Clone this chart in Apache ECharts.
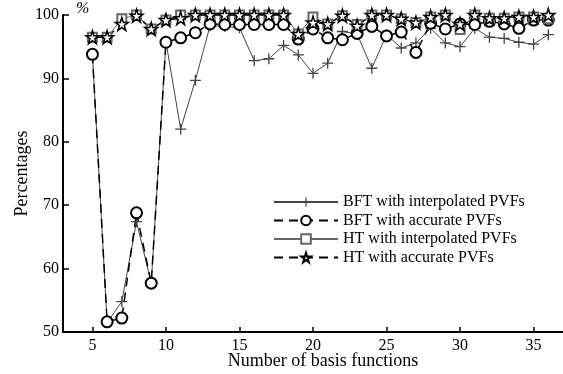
<!DOCTYPE html>
<html><head><meta charset="utf-8">
<script src="https://cdn.jsdelivr.net/npm/echarts@6/dist/echarts.min.js"></script>
<style>html,body{margin:0;padding:0;background:#fff}#c{width:563px;height:374px}</style>
</head><body><div id="c"></div>
<script>
var basisCounts = [5,6,7,8,9,10,11,12,13,14,15,16,17,18,19,20,21,22,23,24,25,26,27,28,29,30,31,32,33,34,35,36];
var bftInterp = [93.8,51.5,54.8,67.4,57.7,95.8,82.0,89.7,98.3,98.2,98.0,92.8,93.1,95.2,93.7,90.8,92.4,97.4,97.0,91.6,96.9,94.8,95.6,97.9,95.6,95.0,97.9,96.5,96.3,95.7,95.4,96.9];
var bftAccurate = [93.8,51.6,52.2,68.8,57.7,95.7,96.4,97.2,98.6,98.5,98.5,98.5,98.5,98.5,96.2,97.8,96.4,96.1,97.1,98.2,96.7,97.3,94.1,98.7,97.8,98.6,98.5,99.0,98.6,97.9,99.2,99.2];
var htInterp = [96.5,96.5,99.4,100,97.8,99.2,100,100,100,100,100,100,100,100,97.0,99.7,98.6,99.9,98.5,100,100,99.4,98.8,99.7,100,97.7,100,99.5,99.5,99.7,99.7,99.4];
var htAccurate = [96.5,96.5,98.6,99.9,97.8,99.2,99.5,100,100,100,100,100,100,100,97.0,98.8,98.6,99.9,98.3,100,100,99.4,98.8,99.7,100,98.6,100,99.5,99.5,99.7,99.7,100];
var xTicks = [5,10,15,20,25,30,35];
var seriesNames = ['BFT with interpolated PVFs','BFT with accurate PVFs','HT with interpolated PVFs','HT with accurate PVFs'];

function pairs(ys){ return basisCounts.map(function(x,i){ return [x, ys[i]]; }); }
var FONT = 'Liberation Serif';
var starPath = 'path://M50,0 L61,35 L98,35 L68,57 L79,91 L50,70 L21,91 L32,57 L2,35 L39,35 Z';
var plusPath = 'path://M4.4,0H5.6V10H4.4Z M0,4.4H10V5.6H0Z';

var chart = echarts.init(document.getElementById('c'), null, {renderer:'canvas'});
chart.setOption({
  animation:false,
  backgroundColor:'#fff',
  grid:{left:63,right:0,top:15,bottom:42,containLabel:false,outerBoundsMode:'none'},
  xAxis:{
    type:'value',min:3,max:37,
    name:'Number of basis functions',nameLocation:'middle',nameGap:20,nameMoveOverlap:false,
    nameTextStyle:{fontFamily:FONT,fontSize:18,color:'#000',padding:[0,0,0,20]},
    axisLine:{show:true,lineStyle:{color:'#000',width:2}},
    axisTick:{show:true,inside:true,length:5,customValues:xTicks,lineStyle:{color:'#000',width:1.5}},
    axisLabel:{customValues:xTicks,fontFamily:FONT,fontSize:16,color:'#000',margin:6},
    splitLine:{show:false}
  },
  yAxis:{
    type:'value',min:50,max:100,interval:10,
    name:'Percentages',nameLocation:'middle',nameGap:32,nameMoveOverlap:false,
    nameTextStyle:{fontFamily:FONT,fontSize:18,color:'#000'},
    axisLine:{show:true,lineStyle:{color:'#000',width:2}},
    axisTick:{show:true,inside:true,length:6,lineStyle:{color:'#000',width:1.5}},
    axisLabel:{fontFamily:FONT,fontSize:16,color:'#000',margin:4},
    splitLine:{show:false}
  },
  graphic:[{type:'text',left:76,top:1,style:{text:'%',fontFamily:FONT,fontStyle:'italic',fontSize:16,fill:'#000'}}],
  legend:{
    orient:'vertical',left:268,top:189,itemWidth:64,itemHeight:12,itemGap:2.5,
    textStyle:{fontFamily:FONT,fontSize:16,color:'#000',lineHeight:16},
    data:seriesNames
  },
  series:[
    {name:seriesNames[0],type:'line',data:pairs(bftInterp),symbol:plusPath,symbolSize:11,clip:false,
     lineStyle:{color:'#444',width:1},itemStyle:{color:'#444'}},
    {name:seriesNames[1],type:'line',data:pairs(bftAccurate),symbol:'emptyCircle',symbolSize:11,clip:false,
     lineStyle:{color:'#000',width:1.5,type:[9,6]},itemStyle:{color:'#000',borderWidth:1.5}},
    {name:seriesNames[2],type:'line',data:pairs(htInterp),symbol:'emptyRect',symbolSize:9,clip:false,
     lineStyle:{color:'#666',width:1},itemStyle:{color:'#666',borderWidth:1}},
    {name:seriesNames[3],type:'line',data:pairs(htAccurate),symbol:starPath,symbolSize:13,clip:false,
     lineStyle:{color:'#000',width:1.5,type:[9,6]},itemStyle:{color:'#fff',borderColor:'#000',borderWidth:1.5}}
  ]
});
</script></body></html>
